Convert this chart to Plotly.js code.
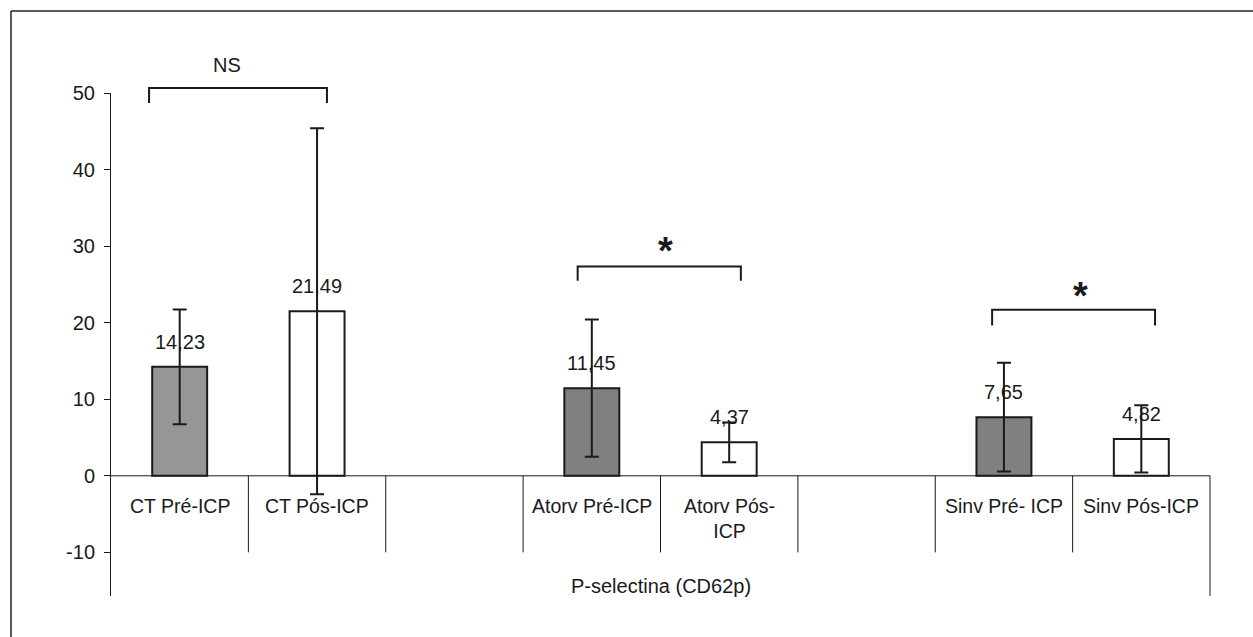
<!DOCTYPE html>
<html>
<head>
<meta charset="utf-8">
<script src="https://cdn.plot.ly/plotly-3.0.1.min.js"></script>
<style>
  html, body { margin: 0; padding: 0; background: #ffffff; }
  #chart { width: 1253px; height: 637px; }
</style>
</head>
<body>
<div id="chart"></div>
<script>
// ---- data ----
const categories = ['CT Pré-ICP', 'CT Pós-ICP', 'gap1', 'Atorv Pré-ICP', 'Atorv Pós-ICP', 'gap2', 'Sinv Pré- ICP', 'Sinv Pós-ICP'];
const categoryLabels = ['CT Pré-ICP', 'CT Pós-ICP', '', 'Atorv Pré-ICP', 'Atorv Pós-<br>ICP', '', 'Sinv Pré- ICP', 'Sinv Pós-ICP'];
const barCategories = ['CT Pré-ICP', 'CT Pós-ICP', 'Atorv Pré-ICP', 'Atorv Pós-ICP', 'Sinv Pré- ICP', 'Sinv Pós-ICP'];
const barValues = [14.23, 21.49, 11.45, 4.37, 7.65, 4.82];
const barErrors = [7.5, 23.9, 8.95, 2.6, 7.1, 4.4];
const barColors = ['#969696', '#ffffff', '#808080', '#ffffff', '#808080', '#ffffff'];
const groupTitle = 'P-selectina (CD62p)';
const yTicks = [-10, 0, 10, 20, 30, 40, 50];

// ---- layout helpers ----
const Y_MIN = -15.7, Y_MAX = 50;
const toPaperY = v => (v - Y_MIN) / (Y_MAX - Y_MIN);
const FONT = 'Liberation Sans, Arial, sans-serif';
const INK = '#1a1a1a';

const trace = {
  type: 'bar',
  x: barCategories,
  y: barValues,
  width: 0.4,
  marker: { color: barColors, line: { color: INK, width: 2 } },
  error_y: { type: 'data', array: barErrors, visible: true, color: INK, thickness: 2, width: 7 },
  hoverinfo: 'skip',
  showlegend: false
};

const shapes = [];
const annotations = [];

// x axis line at zero
shapes.push({ type: 'line', xref: 'paper', yref: 'y', x0: 0, x1: 1, y0: 0, y1: 0, line: { color: INK, width: 1 } });
// category separators
for (let i = 0; i < categories.length - 1; i++) {
  shapes.push({ type: 'line', xref: 'x', yref: 'y', x0: i + 0.5, x1: i + 0.5, y0: 0, y1: -10, line: { color: INK, width: 1 } });
}
// right end line
shapes.push({ type: 'line', xref: 'paper', yref: 'paper', x0: 1, x1: 1, y0: toPaperY(0), y1: 0, line: { color: INK, width: 1 } });

// outer frame (top and left edges visible)
shapes.push({ type: 'line', xref: 'paper', yref: 'paper', x0: -0.091, x1: 1.2, y0: 1.163, y1: 1.163, line: { color: '#222', width: 1.5 } });
shapes.push({ type: 'line', xref: 'paper', yref: 'paper', x0: -0.091, x1: -0.091, y0: 1.163, y1: -0.2, line: { color: '#222', width: 1.5 } });

// significance brackets
const brackets = [
  { x0: -0.223, x1: 1.072, top: 50.65, tip: 48.7, label: 'NS', lx: 0.342, ly: 53.7, bold: false, size: 20, shift: 0 },
  { x0: 2.897, x1: 4.085, top: 27.35, tip: 25.48, label: '*', lx: 3.537, ly: 29.74, bold: true, size: 38, shift: -3 },
  { x0: 5.914, x1: 7.10, top: 21.69, tip: 19.64, label: '*', lx: 6.554, ly: 23.94, bold: true, size: 38, shift: -3 }
];
brackets.forEach(b => {
  const yt = toPaperY(b.top), yb = toPaperY(b.tip);
  shapes.push({ type: 'path', xref: 'x', yref: 'paper',
    path: `M ${b.x0} ${yb} L ${b.x0} ${yt} L ${b.x1} ${yt} L ${b.x1} ${yb}`,
    line: { color: INK, width: 2 } });
  annotations.push({ xref: 'x', yref: 'paper', x: b.lx, y: toPaperY(b.ly), text: b.bold ? '<b>' + b.label + '</b>' : b.label,
    showarrow: false, xanchor: 'center', yanchor: 'middle', yshift: b.shift,
    font: { family: FONT, size: b.size, color: INK } });
});

// value labels
barCategories.forEach((c, i) => {
  annotations.push({ xref: 'x', yref: 'y', x: c, y: barValues[i], yshift: 25, showarrow: false,
    xanchor: 'center', yanchor: 'middle', text: barValues[i].toFixed(2).replace('.', ','),
    font: { family: FONT, size: 20, color: INK } });
});

// category labels
categories.forEach((c, i) => {
  if (!categoryLabels[i]) return;
  annotations.push({ xref: 'x', yref: 'y', x: i, y: -2.25, showarrow: false, xanchor: 'center', yanchor: 'top',
    text: categoryLabels[i], font: { family: FONT, size: 19.5, color: INK } });
});

// group label
annotations.push({ xref: 'paper', yref: 'y', x: 0.5, y: -14.37, showarrow: false, xanchor: 'center', yanchor: 'middle',
  text: groupTitle, font: { family: FONT, size: 20, color: INK } });

const layout = {
  width: 1253, height: 637,
  margin: { l: 111, r: 43, t: 93, b: 41, pad: 0 },
  paper_bgcolor: '#ffffff', plot_bgcolor: '#ffffff',
  showlegend: false,
  xaxis: {
    type: 'category', categoryorder: 'array', categoryarray: categories,
    range: [-0.5, categories.length - 0.5],
    showticklabels: false, ticks: '', showgrid: false, zeroline: false, showline: false, fixedrange: true
  },
  yaxis: {
    range: [Y_MIN, Y_MAX], tickmode: 'array', tickvals: yTicks, ticktext: yTicks.map(String),
    ticks: 'outside', ticklen: 6, tickwidth: 1, tickcolor: INK,
    showline: true, linecolor: INK, linewidth: 1,
    showgrid: false, zeroline: false, ticklabelstandoff: 5,
    tickfont: { family: FONT, size: 20, color: INK }, fixedrange: true
  },
  shapes: shapes,
  annotations: annotations
};

Plotly.newPlot('chart', [trace], layout, { staticPlot: true, displayModeBar: false });
</script>
</body>
</html>
